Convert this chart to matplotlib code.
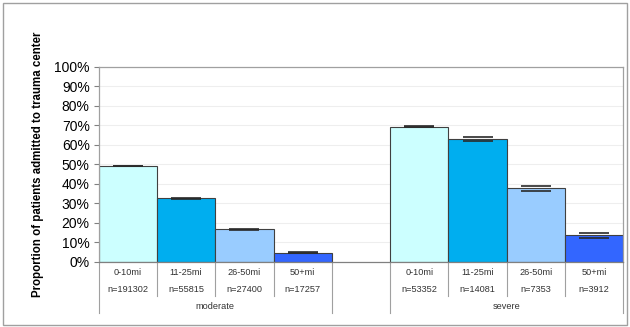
import matplotlib
matplotlib.use("Agg")
import matplotlib.pyplot as plt
import matplotlib.transforms as mtransforms
from matplotlib.patches import Rectangle
import numpy as np

plt.rcParams['font.family'] = ['Liberation Sans', 'DejaVu Sans']

groups = ["moderate", "severe"]
distances = ["0-10mi", "11-25mi", "26-50mi", "50+mi"]
n_moderate = ["n=191302", "n=55815", "n=27400", "n=17257"]
n_severe = ["n=53352", "n=14081", "n=7353", "n=3912"]
moderate = [49.1, 32.5, 16.6, 4.6]
severe = [69.2, 62.8, 37.6, 13.5]
err_moderate = [0.2, 0.2, 0.3, 0.2]
err_severe = [0.3, 1.0, 1.2, 1.1]
colors = ["#CCFFFF", "#00AEEF", "#99CCFF", "#3366FF"]

fig = plt.figure(figsize=(6.3, 3.27), dpi=100)
ax = fig.add_axes([98.7/630, 1-261.7/327, (623.3-98.7)/630, 195/327])

pos_mod = np.arange(4)
pos_sev = np.arange(4) + 5
ax.bar(pos_mod, moderate, width=1.0, color=colors, edgecolor="#404040", linewidth=0.8, zorder=2)
ax.bar(pos_sev, severe, width=1.0, color=colors, edgecolor="#404040", linewidth=0.8, zorder=2)
for pos, vals, errs in [(pos_mod, moderate, err_moderate), (pos_sev, severe, err_severe)]:
    ax.errorbar(pos, vals, yerr=errs, fmt="none", ecolor="#2a2a2a", elinewidth=0,
                capsize=10.5, capthick=1.2, zorder=3)

ax.set_xlim(-0.5, 8.5)
ax.set_ylim(0, 100)
ax.set_yticks(np.arange(0, 101, 10))
ax.set_yticklabels([f"{v}%" for v in range(0, 101, 10)], fontsize=10, color="#000000")
ax.tick_params(axis="y", length=3.5, color="#808080", width=0.8, pad=3)
ax.set_xticks([])
ax.grid(axis="y", color="#EEEEEE", linewidth=0.8, zorder=0)
ax.set_axisbelow(True)
for s in ax.spines.values():
    s.set_color("#A0A0A0")
    s.set_linewidth(0.9)
ax.spines["bottom"].set_color("#808080")

ax.set_ylabel("Proportion of patients admitted to trauma center", fontsize=8.3,
              fontweight="bold", labelpad=7)

trans = mtransforms.blended_transform_factory(ax.transData, ax.transAxes)
for pos, ns in [(pos_mod, n_moderate), (pos_sev, n_severe)]:
    for p, d, n in zip(pos, distances, ns):
        ax.text(p, -0.056, d, transform=trans, ha="center", va="center", fontsize=6.6, color="#333333")
        ax.text(p, -0.142, n, transform=trans, ha="center", va="center", fontsize=6.6, color="#333333")
for g, pos in zip(groups, [pos_mod, pos_sev]):
    ax.text(pos.mean(), -0.231, g, transform=trans, ha="center", va="center", fontsize=6.6, color="#333333")

for x in [0.5, 1.5, 2.5, 5.5, 6.5, 7.5]:
    ax.plot([x, x], [0, -0.174], transform=trans, color="#A0A0A0", lw=0.8, clip_on=False)
for x in [-0.5, 3.5, 4.5, 8.5]:
    ax.plot([x, x], [0, -0.262], transform=trans, color="#A0A0A0", lw=0.8, clip_on=False)

fig.patches.append(Rectangle((3/630, 1-325/327), 624/630, 322/327, transform=fig.transFigure,
                             fill=False, edgecolor="#A0A0A0", linewidth=1.0))

fig.savefig("out.png", dpi=100)
